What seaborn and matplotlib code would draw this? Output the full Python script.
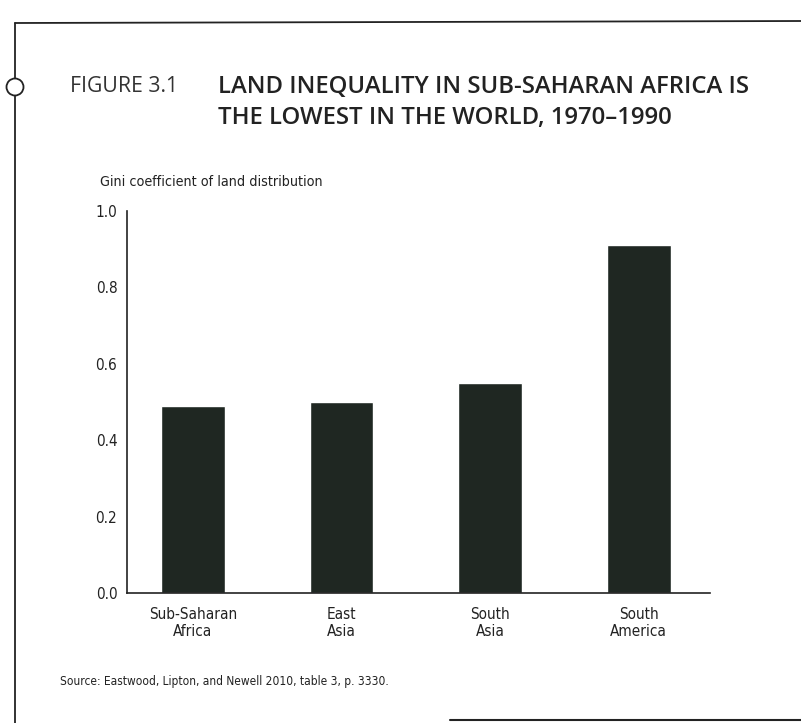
import matplotlib
matplotlib.use("Agg")
import matplotlib.pyplot as plt
from matplotlib.lines import Line2D
from matplotlib.patches import Ellipse
import pandas as pd
import seaborn as sns

# -------------------------------
# Data
# -------------------------------
regions = ["Sub-Saharan\nAfrica", "East\nAsia", "South\nAsia", "South\nAmerica"]
gini = [0.49, 0.50, 0.55, 0.91]
y_ticks = [0.0, 0.2, 0.4, 0.6, 0.8, 1.0]

df = pd.DataFrame({"region": regions, "gini": gini})

# -------------------------------
# Style
# -------------------------------
sns.set_style("white")
plt.rcParams["font.family"] = ["DejaVu Sans"]
plt.rcParams["font.stretch"] = "condensed"
bar_color = "#1f2722"
ink = "#222222"

fig = plt.figure(figsize=(8.01, 7.23), dpi=100)
ax = fig.add_axes([0.1586, 0.180, 0.728, 0.528])

sns.barplot(data=df, x="region", y="gini", color=bar_color, width=0.43,
            saturation=1, ax=ax)

ax.set_xlim(-0.443, 3.48)
ax.set_ylim(0, 1.0)
ax.set_yticks(y_ticks)
ax.set_yticklabels([f"{t:.1f}" for t in y_ticks], fontsize=11, color=ink)
ax.tick_params(axis="y", direction="in", length=9, width=1.2, color=ink, pad=7)
ax.tick_params(axis="x", length=0, labelsize=11, labelcolor=ink, pad=10)
ax.set_xlabel("")
ax.set_ylabel("")

for side in ["top", "right"]:
    ax.spines[side].set_visible(False)
for side in ["left", "bottom"]:
    ax.spines[side].set_color(ink)
    ax.spines[side].set_linewidth(1.2)

# axis title above the y axis
fig.text(100 / 801, 1 - 182 / 723, "Gini coefficient of land distribution",
         fontsize=10.3, color=ink, va="center", ha="left")

# -------------------------------
# Figure heading
# -------------------------------
head = ["Open Sans", "DejaVu Sans"]
fig.text(70 / 801, 1 - 87 / 723, "FIGURE 3.1", fontsize=15.3, color="#333333",
         family=head, stretch="normal", va="center", ha="left")
fig.text(218 / 801, 1 - 87 / 723, "LAND INEQUALITY IN SUB-SAHARAN AFRICA IS",
         fontsize=17.2, color=ink, family=head, stretch="normal",
         weight="semibold", va="center", ha="left")
fig.text(218 / 801, 1 - 118 / 723, "THE LOWEST IN THE WORLD, 1970\u20131990",
         fontsize=17.2, color=ink, family=head, stretch="normal",
         weight="semibold", va="center", ha="left")

# source note
fig.text(60 / 801, 1 - 681 / 723,
         "Source: Eastwood, Lipton, and Newell 2010, table 3, p. 3330.",
         fontsize=8.6, color=ink, va="center", ha="left")

# -------------------------------
# Page frame
# -------------------------------
fig.add_artist(Line2D([15 / 801, 15 / 801], [1 - 23 / 723, 0], color=ink,
                      lw=1.3, transform=fig.transFigure))
fig.add_artist(Line2D([15 / 801, 1], [1 - 23 / 723, 1 - 21 / 723], color=ink,
                      lw=1.3, transform=fig.transFigure))
fig.add_artist(Line2D([450 / 801, 1], [1 - 720 / 723, 1 - 720 / 723],
                      color=ink, lw=1.5, transform=fig.transFigure))
fig.add_artist(Ellipse((15 / 801, 1 - 87 / 723), 17 / 801, 17 / 723,
                       facecolor="white", edgecolor=ink, lw=1.3,
                       transform=fig.transFigure, zorder=5))

fig.savefig("out.png", dpi=100)
